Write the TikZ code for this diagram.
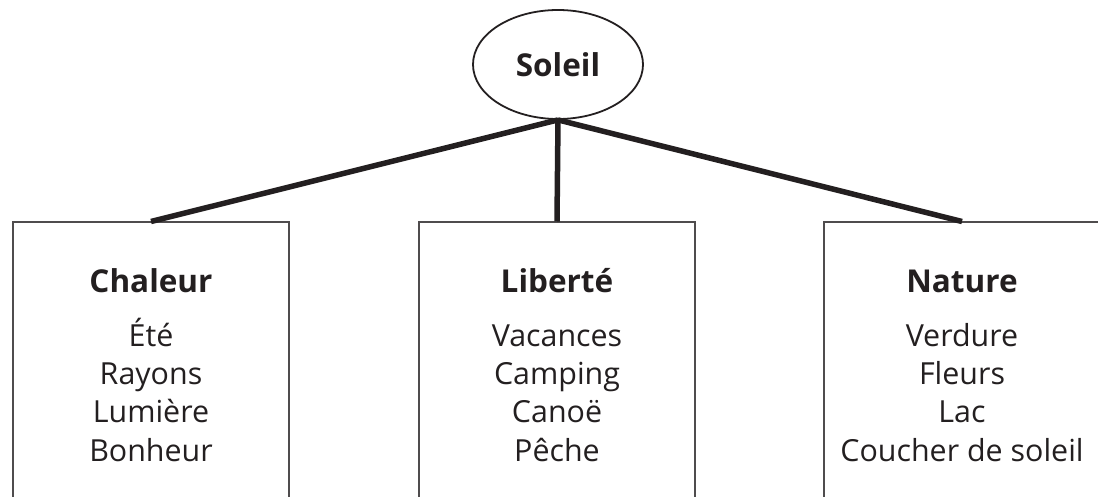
\documentclass[tikz,border=0pt]{standalone}
\usepackage{fontspec}
\setmainfont{Open Sans}
\usetikzlibrary{shapes,positioning,calc}
\definecolor{encre}{RGB}{35,31,32}
\tikzset{
	soleil/.style={
		ellipse,
		draw=encre,
		line width=1.8pt,
		minimum width=170pt,
		minimum height=109pt,
		text=encre,
		font=\fontsize{31.5}{36}\selectfont\bfseries,
	},
	boite/.style={
		rectangle,
		draw=encre!80,
		line width=1.1pt,
		minimum width=276pt,
		minimum height=330pt,
		anchor=north,
	},
	titre/.style={
		anchor=base,
		inner sep=0pt,
		text=encre,
		font=\fontsize{31.5}{36}\selectfont\bfseries,
	},
	liste/.style={
		anchor=base,
		inner sep=0pt,
		align=center,
		text=encre,
		font=\fontsize{30.4}{38.3}\selectfont,
	},
	branche/.style={
		line width=5.5pt,
		draw=encre,
	},
}
\begin{document}
\begin{tikzpicture}[x=1pt, y=-1pt]
	\useasboundingbox (0,0) rectangle (1098,497);
	\clip (0,0) rectangle (1098,497);
	
	\node [soleil] (sol) at (558,64.5) {Soleil};
	
	\node [boite] (chal) at (151,221.5) {};
	\node [boite] (lib) at (557,221.5) {};
	\node [boite] (nat) at (962,221.5) {};
	
	\node [titre] (chalT) at ([yshift=-70.5pt]chal.north) {Chaleur};
	\node [titre] (libT) at ([yshift=-70.5pt]lib.north) {Liberté};
	\node [titre] (natT) at ([yshift=-70.5pt]nat.north) {Nature};
	
	% base = derniere ligne
	\node [liste] (chalL) at ([yshift=-239.5pt]chal.north) {Été\\Rayons\\Lumière\\Bonheur};
	\node [liste] (libL) at ([yshift=-239.5pt]lib.north) {Vacances\\Camping\\Canoë\\Pêche};
	\node [liste] (natL) at ([yshift=-239.5pt]nat.north) {Verdure\\Fleurs\\Lac\\Coucher de soleil};
	
	\draw [branche] (sol.south) -- (chal.north);
	\draw [branche] (sol.south) -- (lib.north);
	\draw [branche] (sol.south) -- (nat.north);
\end{tikzpicture}
\end{document}
